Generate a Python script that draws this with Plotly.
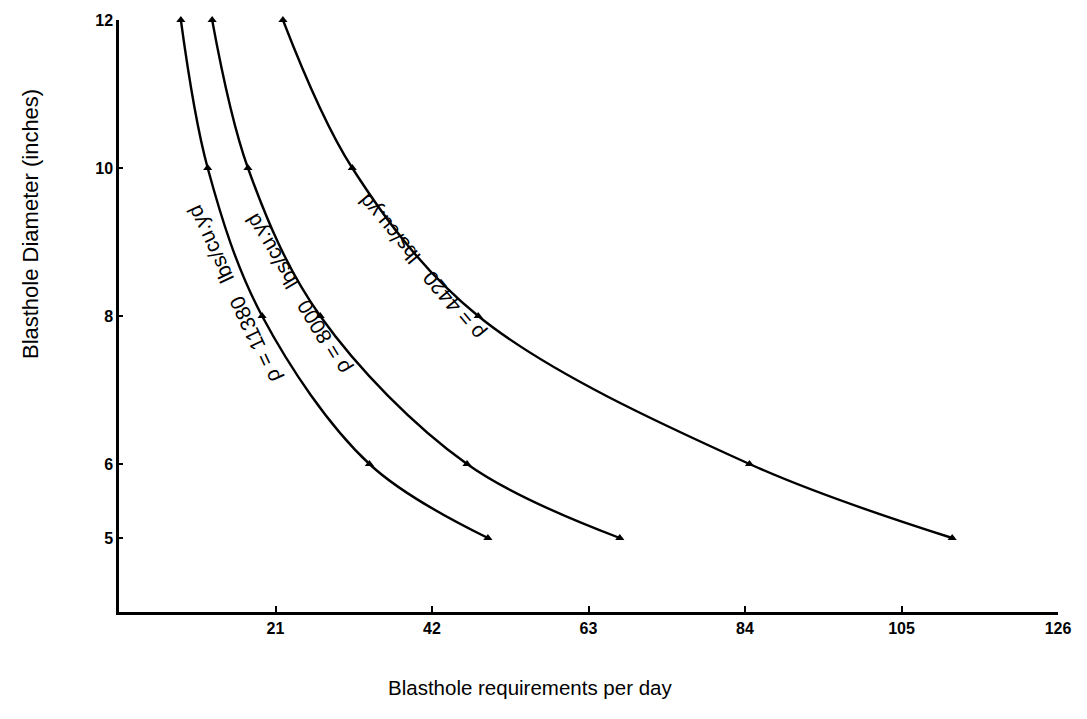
import plotly.graph_objects as go

# Blasthole diameter (inches)
diameters = [12, 10, 8, 6, 5]

# Blasthole requirements per day for each explosive density curve
req_11380 = [8.3, 11.9, 19.2, 33.6, 49.5]
req_8000 = [12.5, 17.3, 27.0, 46.7, 67.2]
req_4420 = [22.0, 31.3, 48.2, 84.6, 111.8]

densities = ["11380", "8000", "4420"]

x_ticks = [21, 42, 63, 84, 105, 126]
y_ticks = [5, 6, 8, 10, 12]

series = [req_11380, req_8000, req_4420]

fig = go.Figure()
for vals in series:
    fig.add_trace(go.Scatter(
        x=vals, y=diameters, mode="lines+markers",
        line=dict(color="black", width=2.4, shape="spline", smoothing=1.0),
        marker=dict(symbol="triangle-up", size=8, color="black"),
        cliponaxis=False, showlegend=False,
    ))

label_font = dict(family="Liberation Sans, Arial, sans-serif", size=21, color="black")
NB = "\u00a0"
label_pos = [(15.4, 8.30, -115), (24.0, 8.30, -121), (40.5, 8.66, -130)]
for dens, (ax_, ay_, ang) in zip(densities, label_pos):
    fig.add_annotation(
        x=ax_, y=ay_, xref="x", yref="y",
        text=f"ρ{NB}={NB}{dens}{NB}{NB}{NB}lbs/cu.yd",
        textangle=ang, showarrow=False, font=label_font,
        xanchor="center", yanchor="middle",
    )

fig.add_annotation(
    x=0.438, y=-0.128, xref="paper", yref="paper",
    text="Blasthole requirements per day", showarrow=False,
    font=dict(family="Liberation Sans, Arial, sans-serif", size=20.5, color="black"),
    xanchor="center", yanchor="middle",
)
fig.add_annotation(
    x=-0.095, y=0.655, xref="paper", yref="paper",
    text="Blasthole Diameter (inches)", showarrow=False, textangle=-90,
    font=dict(family="Liberation Sans, Arial, sans-serif", size=22, color="black"),
    xanchor="center", yanchor="middle",
)

tick_font = dict(family="Liberation Sans, Arial, sans-serif", size=16, color="black")
fig.update_xaxes(
    range=[0, 126], tickvals=x_ticks, ticktext=[f"<b>{t}</b>" for t in x_ticks],
    showline=True, linecolor="black", linewidth=2.5, ticks="inside",
    ticklen=6, tickwidth=1.5, tickcolor="black", showgrid=False, zeroline=False,
    tickfont=tick_font,
)
fig.update_yaxes(
    range=[4, 12], tickvals=y_ticks, ticktext=[f"<b>{t}</b>" for t in y_ticks],
    showline=True, linecolor="black", linewidth=2.5, ticks="inside",
    ticklen=4, tickwidth=1.5, tickcolor="black", showgrid=False, zeroline=False,
    tickfont=tick_font,
)
fig.update_layout(
    width=1087, height=719,
    margin=dict(l=119, r=29, t=20, b=107),
    plot_bgcolor="white", paper_bgcolor="white",
)
fig.write_html("out.html")
